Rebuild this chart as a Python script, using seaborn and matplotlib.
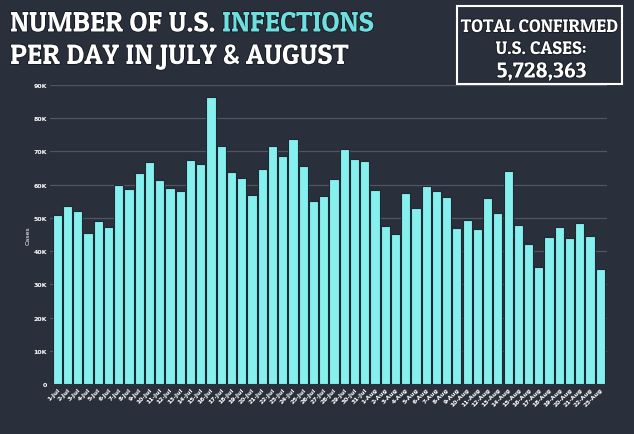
import matplotlib
matplotlib.use("Agg")
import matplotlib.pyplot as plt
import matplotlib.patheffects as pe
import seaborn as sns
import pandas as pd

# daily new US cases, 1 Jul - 23 Aug (thousands)
dates = [f"{d}-Jul" for d in range(1, 32)] + [f"{d}-Aug" for d in range(1, 24)]
cases = [50.8, 53.6, 52.0, 45.4, 49.2, 47.4, 59.9, 58.7, 63.4, 66.7,
         61.4, 59.1, 58.1, 67.4, 66.3, 86.3, 71.6, 63.7, 61.9, 56.9,
         64.7, 71.7, 68.6, 73.7, 65.6, 55.0, 56.6, 61.8, 70.8, 67.7,
         67.1,
         58.4, 47.5, 45.3, 57.5, 52.9, 59.7, 58.2, 56.3, 46.9, 49.5,
         46.7, 56.0, 51.4, 64.1, 47.8, 42.0, 35.1, 44.1, 47.4, 43.9,
         48.6, 44.6, 34.6]
yticks = [0, 10000, 20000, 30000, 40000, 50000, 60000, 70000, 80000, 90000]
ytick_labels = ["0", "10K", "20K", "30K", "40K", "50K", "60K", "70K", "80K", "90K"]
total_cases = "5,728,363"

bg = "#2a303b"
bar_col = "#86f0ee"
cyan = "#6fdede"
W, H = 634, 435
title_font = ["Patua One", "DejaVu Serif"]

df = pd.DataFrame({"date": dates, "cases": [c * 1000 for c in cases]})

sns.set_theme(style="dark")
fig = plt.figure(figsize=(6.34, 4.35), dpi=100, facecolor=bg)
ax = fig.add_axes([50 / W, 50 / H, 557 / W, 299 / H])
ax.set_facecolor(bg)

sns.barplot(data=df, x="date", y="cases", color=bar_col, saturation=1,
            width=0.9, edgecolor="#1d2a33", linewidth=0.8, ax=ax, zorder=3)

ax.set_ylim(0, 90000)
ax.set_xlim(-0.71, 53.65)
ax.set_yticks(yticks)
ax.set_yticklabels(ytick_labels, color="white", fontsize=4.5, fontweight="bold")
ax.yaxis.grid(True, color="#50565f", linewidth=0.9, zorder=0)
ax.xaxis.grid(False)
ax.tick_params(axis="y", length=0, pad=2)
ax.tick_params(axis="x", length=0, pad=2)
plt.setp(ax.get_xticklabels(), rotation=45, ha="right", rotation_mode="anchor",
         color="white", fontsize=4.3, fontweight="bold")
ax.set_xlabel("")
ax.set_ylabel("Cases", color="white", fontsize=4.5, labelpad=2)
for s in ax.spines.values():
    s.set_visible(False)

fig.canvas.draw()
renderer = fig.canvas.get_renderer()
shadow = [pe.withStroke(linewidth=1.2, foreground="#14181f")]


def fit_text(x, base, s, width, color="white", ha="left"):
    t = fig.text(x / W, 1 - base / H, s, fontsize=20, family=title_font,
                 color=color, ha=ha, va="baseline", path_effects=shadow)
    w = t.get_window_extent(renderer).width
    t.set_fontsize(20 * width / w)
    return t


# title, line 1 in two colours
t_all = fit_text(10, 32.5, "NUMBER OF U.S. INFECTIONS", 363)
size1 = t_all.get_fontsize()
t_all.set_text("NUMBER OF U.S. ")
bb = t_all.get_window_extent(renderer)
fig.text(bb.x1 / W, 1 - 32.5 / H, "INFECTIONS", fontsize=size1, family=title_font,
         color=cyan, ha="left", va="baseline", path_effects=shadow)
fit_text(10, 65, "PER DAY IN JULY & AUGUST", 338)

box = plt.Rectangle((457 / W, 1 - 85 / H), 165 / W, 78 / H,
                    transform=fig.transFigure, fill=False, edgecolor="white", linewidth=1.5)
fig.patches.append(box)
fit_text(539.5, 33, "TOTAL CONFIRMED", 157, ha="center")
fit_text(541, 55, "U.S. CASES:", 91, ha="center")
fit_text(541.5, 78.5, total_cases, 90, ha="center")

fig.savefig("out.png", dpi=100, facecolor=bg)
